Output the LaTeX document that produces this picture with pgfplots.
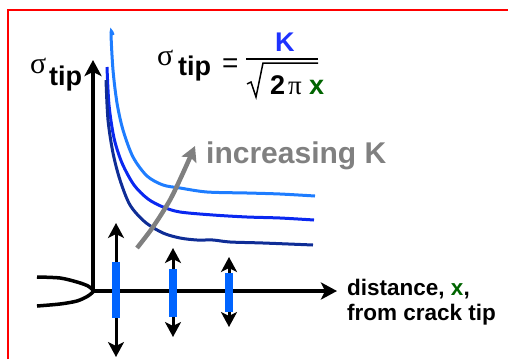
\documentclass[border=0pt]{standalone}
\usepackage{pgfplots}
\pgfplotsset{compat=1.18}
\usetikzlibrary{arrows.meta}
\usepackage{fontspec}
\setmainfont{Liberation Sans}
\newfontfamily\serifg{Liberation Serif}
\definecolor{cA}{RGB}{30,125,255}
\definecolor{cB}{RGB}{10,40,240}
\definecolor{cC}{RGB}{15,45,150}
\definecolor{barblue}{RGB}{0,100,255}
\definecolor{kblue}{RGB}{30,50,255}
\definecolor{xgreen}{RGB}{0,100,0}
\definecolor{kgray}{RGB}{128,128,128}
\begin{document}
\begin{tikzpicture}
\begin{axis}[at={(0,0)},anchor=south west,
  width=508pt,height=359pt,scale only axis,
  xmin=0,xmax=508,ymin=0,ymax=359,y dir=reverse,
  axis lines=none,clip=false]
% red frame
\addplot[red,line width=1.5pt] coordinates {(8,359) (8,10) (508,10)};
% axes
\addplot[black,line width=3.5pt,-{Stealth[length=16pt,width=17pt,inset=4pt]}] coordinates {(93,292) (93,60)};
\addplot[black,line width=3.5pt,-{Stealth[length=16pt,width=17pt,inset=4pt]}] coordinates {(91,291) (337,291)};
% crack
\addplot[black,line width=3.5pt,smooth] coordinates {(37,277) (60,278) (77,282) (88,286) (94,291)};
\addplot[black,line width=3.5pt,smooth] coordinates {(37,306) (60,304) (77,301) (88,296) (94,291)};
% curves
\addplot[cA,line width=3pt,smooth] coordinates {(113,35) (111,33) (113,70) (117,103) (123,130) (133,157) (147,176) (163,185) (180,188) (207,192) (247,193) (280,194) (315,196)};
\addplot[cB,line width=3pt,smooth] coordinates {(107,67) (109,105) (114,138) (122,163) (134,185) (148,199) (163,207) (180,212) (213,215) (247,217) (280,218) (314,220)};
\addplot[cC,line width=3pt,smooth] coordinates {(106,80) (108,120) (113,153) (120,180) (130,205) (145,222) (163,233) (180,238) (197,240) (213,240) (230,242) (263,243) (313,245)};
% gray arrow
\addplot[kgray,line width=4.5pt,smooth,-{Stealth[length=15pt,width=16pt,inset=3pt]}] coordinates {(137,248) (153,227) (170,200) (183,173) (195,146)};
% double arrows and bars
\addplot[black,line width=3pt,>={Stealth[length=15pt,width=16pt,inset=4pt]},<->] coordinates {(116,223) (116,357)};
\addplot[black,line width=3pt,>={Stealth[length=15pt,width=16pt,inset=4pt]},<->] coordinates {(173,248) (173,337)};
\addplot[black,line width=3pt,>={Stealth[length=15pt,width=16pt,inset=4pt]},<->] coordinates {(229,257) (229,327)};
\addplot[barblue,line width=8pt] coordinates {(116,262) (116,318)};
\addplot[barblue,line width=8pt] coordinates {(173,269) (173,317)};
\addplot[barblue,line width=8pt] coordinates {(229,273) (229,312)};
% fraction bar and radical
\addplot[black,line width=1.5pt] coordinates {(246,59) (318,59)};
\addplot[black,line width=1.5pt] coordinates {(247,84) (251,82) (256,97) (263,63) (318,63)};
% texts
\node[anchor=base west,inner sep=0pt,font=\fontsize{30}{34}\selectfont\serifg] at (axis cs:30,73) {σ};
\node[anchor=base west,inner sep=0pt,font=\fontsize{27}{32}\selectfont\bfseries] at (axis cs:49,85) {tip};
\node[anchor=base west,inner sep=0pt,font=\fontsize{30}{34}\selectfont\serifg] at (axis cs:157,65) {σ};
\node[anchor=base west,inner sep=0pt,font=\fontsize{27}{32}\selectfont\bfseries] at (axis cs:178,75) {tip};
\node[anchor=base west,inner sep=0pt,font=\fontsize{28}{32}\selectfont] at (axis cs:222,72) {=};
\node[anchor=base west,inner sep=0pt,font=\fontsize{27}{32}\selectfont\bfseries,text=kblue] at (axis cs:275,51) {K};
\node[anchor=base west,inner sep=0pt,font=\fontsize{27}{32}\selectfont\bfseries] at (axis cs:270,94) {2};
\node[anchor=base west,inner sep=0pt,font=\fontsize{27}{32}\selectfont\serifg] at (axis cs:288,94) {π};
\node[anchor=base west,inner sep=0pt,font=\fontsize{27}{32}\selectfont\bfseries,text=xgreen] at (axis cs:309,94) {x};
\node[anchor=base west,inner sep=0pt,font=\fontsize{30}{36}\selectfont\bfseries,text=kgray] at (axis cs:206,163) {increasing K};
\node[anchor=base west,inner sep=0pt,font=\fontsize{22.5}{27}\selectfont\bfseries] at (axis cs:347,295) {distance, \textcolor{xgreen}{x},};
\node[anchor=base west,inner sep=0pt,font=\fontsize{22.5}{27}\selectfont\bfseries] at (axis cs:347,320) {from crack tip};
\end{axis}
\pgfresetboundingbox
\useasboundingbox (0,0) rectangle (508pt,359pt);
\end{tikzpicture}
\end{document}
